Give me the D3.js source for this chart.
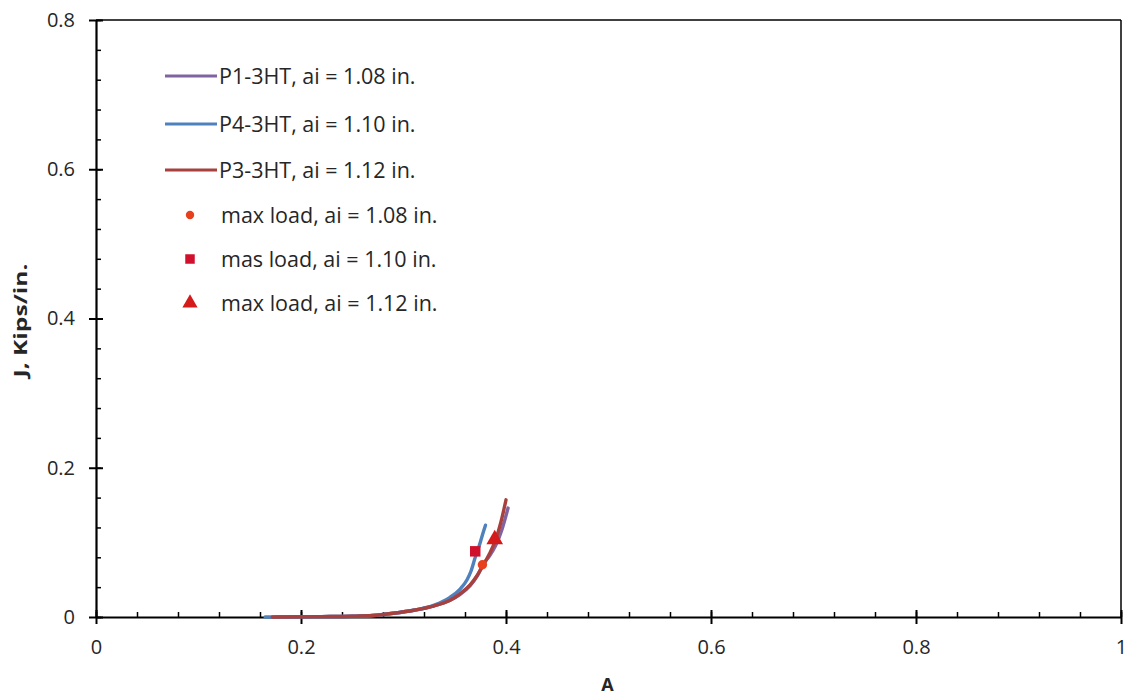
<!DOCTYPE html>
<html>
<head>
<meta charset="utf-8">
<script src="https://cdn.jsdelivr.net/npm/d3@7"></script>
<style>
  html, body { margin: 0; padding: 0; background: #fff; }
  svg text { font-family: "Open Sans", "Noto Sans", sans-serif; fill: #262626; }
</style>
</head>
<body>
<svg id="chart" width="1128" height="698"></svg>
<script>
// J-integral vs A for three 3HT specimens
const aP1 = [0.175, 0.22, 0.25, 0.27, 0.29, 0.31, 0.33, 0.345, 0.355, 0.365, 0.372, 0.378, 0.384, 0.390, 0.396, 0.402];
const jP1 = [0.000, 0.0005, 0.001, 0.002, 0.005, 0.009, 0.015, 0.022, 0.030, 0.042, 0.055, 0.071, 0.082, 0.096, 0.117, 0.146];

const aP4 = [0.165, 0.22, 0.25, 0.27, 0.29, 0.31, 0.33, 0.345, 0.355, 0.362, 0.366, 0.370, 0.374, 0.377, 0.380];
const jP4 = [0.000, 0.0005, 0.001, 0.002, 0.005, 0.009, 0.016, 0.026, 0.037, 0.050, 0.062, 0.080, 0.096, 0.110, 0.123];

const aP3 = [0.172, 0.22, 0.25, 0.27, 0.29, 0.31, 0.33, 0.345, 0.355, 0.365, 0.372, 0.378, 0.384, 0.390, 0.395, 0.400];
const jP3 = [0.000, 0.0005, 0.001, 0.002, 0.005, 0.009, 0.015, 0.022, 0.031, 0.043, 0.056, 0.070, 0.085, 0.104, 0.127, 0.157];

// maximum-load points
const maxA = [0.377, 0.370, 0.389];
const maxJ = [0.070, 0.088, 0.104];

const seriesNames = ["P1-3HT, ai = 1.08 in.", "P4-3HT, ai = 1.10 in.", "P3-3HT, ai = 1.12 in."];
const markerNames = ["max load, ai = 1.08 in.", "mas load, ai = 1.10 in.", "max load, ai = 1.12 in."];
const xTicks = [0, 0.2, 0.4, 0.6, 0.8, 1];
const yTicks = [0, 0.2, 0.4, 0.6, 0.8];

const lineColors = ["#8064A2", "#4F81BD", "#A8403E"];
const markerColors = ["#E8401C", "#D0102C", "#D41A1A"];

const svg = d3.select("#chart");
const L = 96, R = 1121, T = 20, B = 617;

const x = d3.scaleLinear().domain([0, 1]).range([L, R]);
const y = d3.scaleLinear().domain([0, 0.8]).range([B, T]);

// frame: top and right borders
svg.append("line").attr("x1", L).attr("x2", R).attr("y1", T).attr("y2", T)
  .attr("stroke", "#000").attr("stroke-width", 1.5);
svg.append("line").attr("x1", R).attr("x2", R).attr("y1", T).attr("y2", B)
  .attr("stroke", "#000").attr("stroke-width", 1.5);

// minor ticks (inside)
const minorX = d3.range(0, 1.0001, 0.04);
const minorY = d3.range(0, 0.8001, 0.04);
svg.append("g").attr("transform", `translate(0,${B})`)
  .call(d3.axisTop(x).tickValues(minorX).tickSize(5).tickFormat(""))
  .call(g => g.select(".domain").remove())
  .selectAll("line").attr("stroke", "#000").attr("stroke-width", 1.5);
svg.append("g").attr("transform", `translate(${L},0)`)
  .call(d3.axisRight(y).tickValues(minorY).tickSize(5).tickFormat(""))
  .call(g => g.select(".domain").remove())
  .selectAll("line").attr("stroke", "#000").attr("stroke-width", 1.5);

// x axis
const gx = svg.append("g").attr("transform", `translate(0,${B})`)
  .call(d3.axisBottom(x).tickValues(xTicks).tickSize(7).tickSizeOuter(0).tickPadding(16)
    .tickFormat(d => d === 0 ? "0" : (d === 1 ? "1" : d3.format(".1f")(d))));
gx.select(".domain").attr("stroke", "#000").attr("stroke-width", 2.2);
gx.selectAll(".tick line").attr("stroke", "#000").attr("stroke-width", 2).attr("y1", -7);
gx.selectAll(".tick text").attr("font-size", 20).attr("fill", "#3a3a3a")
  .attr("font-family", "Open Sans");

// y axis
const gy = svg.append("g").attr("transform", `translate(${L},0)`)
  .call(d3.axisLeft(y).tickValues(yTicks).tickSize(7).tickSizeOuter(0).tickPadding(14)
    .tickFormat(d => d === 0 ? "0" : d3.format(".1f")(d)));
gy.select(".domain").attr("stroke", "#000").attr("stroke-width", 2.2);
gy.selectAll(".tick line").attr("stroke", "#000").attr("stroke-width", 2).attr("x1", 7);
gy.selectAll(".tick text").attr("font-size", 20).attr("fill", "#3a3a3a")
  .attr("font-family", "Open Sans");

// axis titles
svg.append("text").attr("x", (L + R) / 2 - 1).attr("y", 691).attr("text-anchor", "middle")
  .attr("font-size", 18).attr("font-weight", "bold").text("A");
svg.append("text").attr("transform", `translate(27,${(T + B) / 2 + 2}) rotate(-90)`)
  .attr("text-anchor", "middle").attr("font-size", 17).attr("font-weight", "bold")
  .attr("textLength", 114).attr("lengthAdjust", "spacingAndGlyphs")
  .text("J, Kips/in.");

// curves
const line = d3.line().x(d => x(d[0])).y(d => y(d[1])).curve(d3.curveMonotoneX);
const series = [d3.zip(aP1, jP1), d3.zip(aP4, jP4), d3.zip(aP3, jP3)];
series.forEach((s, i) => {
  svg.append("path").datum(s).attr("d", line)
    .attr("fill", "none").attr("stroke", lineColors[i]).attr("stroke-width", 3.4)
    .attr("stroke-linecap", "round");
});

// max-load markers
const symbols = [d3.symbolCircle, d3.symbolSquare, d3.symbolTriangle];
const sizes = [70, 110, 120];
maxA.forEach((a, i) => {
  svg.append("path").attr("d", d3.symbol(symbols[i], sizes[i])())
    .attr("transform", `translate(${x(a)},${y(maxJ[i])})`)
    .attr("fill", markerColors[i]);
});

// legend
const lg = svg.append("g");
const lineRows = [76, 124, 170];
seriesNames.forEach((n, i) => {
  lg.append("line").attr("x1", 165).attr("x2", 217).attr("y1", lineRows[i]).attr("y2", lineRows[i])
    .attr("stroke", lineColors[i]).attr("stroke-width", 3.2);
  lg.append("text").attr("x", 219).attr("y", lineRows[i]).attr("dy", "0.35em")
    .attr("font-size", 21.5).text(n);
});
const markRows = [215, 259, 303];
markerNames.forEach((n, i) => {
  lg.append("path").attr("d", d3.symbol(symbols[i], [55, 90, 100][i])())
    .attr("transform", `translate(190,${markRows[i]})`).attr("fill", markerColors[i]);
  lg.append("text").attr("x", 221).attr("y", markRows[i]).attr("dy", "0.35em")
    .attr("font-size", 21.5).text(n);
});
</script>
</body>
</html>
